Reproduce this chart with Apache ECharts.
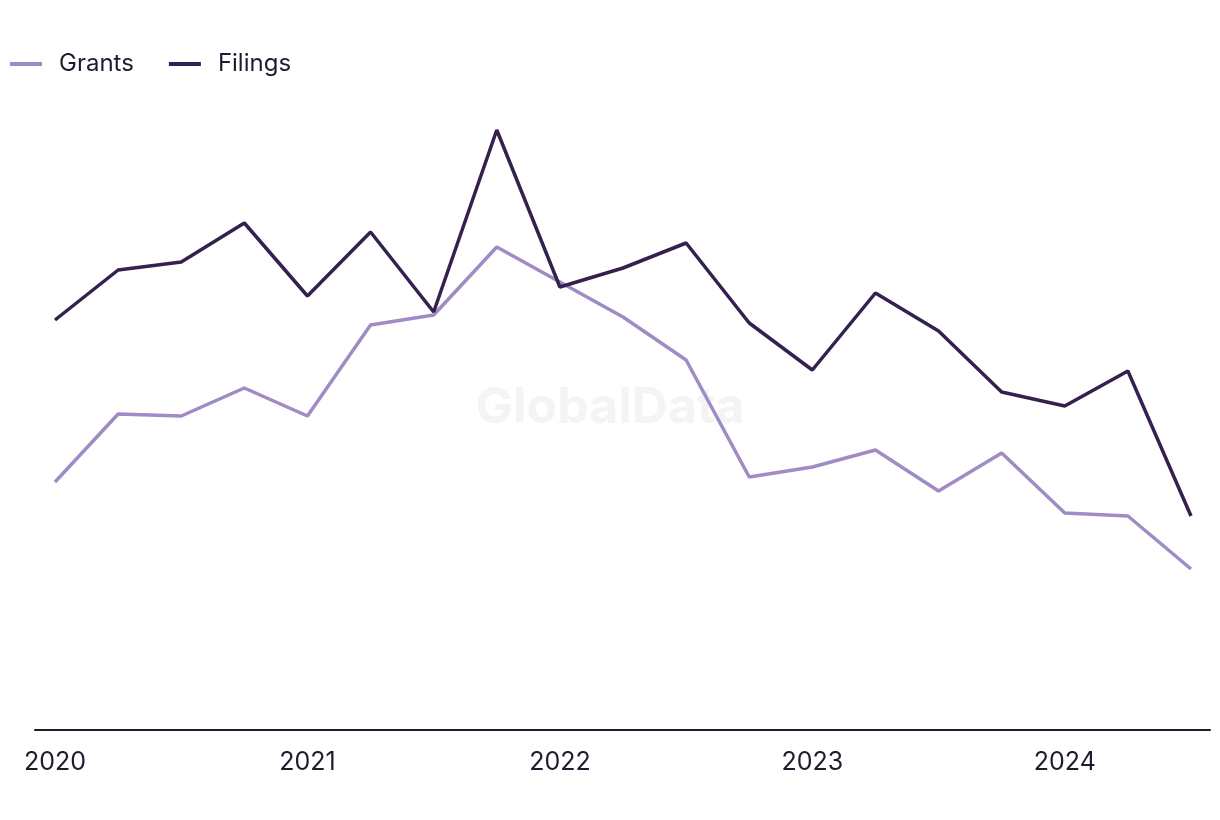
<!DOCTYPE html>
<html>
<head>
<meta charset="utf-8">
<script src="https://cdn.jsdelivr.net/npm/echarts@6/dist/echarts.min.js"></script>
<style>
html,body{margin:0;padding:0;background:#fff;}
#chart{width:1220px;height:820px;}
</style>
</head>
<body>
<div id="chart"></div>
<script>
// Quarterly periods (2020 Q1 .. 2024 Q3)
const quarters = ['2020 Q1','2020 Q2','2020 Q3','2020 Q4','2021 Q1','2021 Q2','2021 Q3','2021 Q4',
  '2022 Q1','2022 Q2','2022 Q3','2022 Q4','2023 Q1','2023 Q2','2023 Q3','2023 Q4',
  '2024 Q1','2024 Q2','2024 Q3'];
const grants  = [124, 158, 157, 171, 157, 202.5, 207.5, 241.5, 224, 206.5, 185, 126.5, 131.5, 140, 119.5, 138.5, 108.5, 107, 80.5];
const filings = [205, 230, 234, 253.5, 217, 249, 209, 300, 221.5, 231, 243.5, 203.5, 180, 218.5, 199.5, 169, 162, 179.5, 107];
const yearTickIdx = [0, 4, 8, 12, 16];
const yearLabels = ['2020', '2021', '2022', '2023', '2024'];

const FONT = 'Inter, "Liberation Sans", sans-serif';
const chart = echarts.init(document.getElementById('chart'), null, {renderer: 'canvas'});
chart.setOption({
  animation: false,
  backgroundColor: '#ffffff',
  graphic: [{
    type: 'text', left: 'center', top: 383, z: 0, silent: true,
    style: {text: 'GlobalData', fill: '#f4f4f5', font: 'bold 50px ' + FONT}
  }],
  legend: {
    left: 5, top: 47,
    itemWidth: 32, itemHeight: 14, itemGap: 35,
    icon: 'path://M0,5.5 L32,5.5 L32,9.5 L0,9.5 Z',
    textStyle: {fontFamily: FONT, fontSize: 24, color: '#1c1c2e', padding: [0, 0, 0, 12]},
    data: ['Grants', 'Filings']
  },
  grid: {left: 35, right: 10, top: 90, bottom: 90, containLabel: false},
  xAxis: {
    type: 'value',
    min: -20 / 63.11, max: 18 + 19 / 63.11,
    splitLine: {show: false},
    axisTick: {show: false},
    axisLine: {show: true, lineStyle: {color: '#1c1c2e', width: 2}},
    axisLabel: {
      customValues: yearTickIdx,
      formatter: v => yearLabels[yearTickIdx.indexOf(Math.round(v))] || '',
      fontFamily: FONT, fontSize: 25, color: '#1c1c2e', margin: 20
    }
  },
  yAxis: {
    type: 'value', min: 0, max: 320,
    show: false, splitLine: {show: false}
  },
  series: [
    {
      name: 'Grants', type: 'line', symbol: 'none', z: 3,
      color: '#a08bc5',
      lineStyle: {width: 3.5, color: '#a08bc5'},
      data: grants.map((v, i) => [i, v])
    },
    {
      name: 'Filings', type: 'line', symbol: 'none', z: 4,
      color: '#34214f',
      lineStyle: {width: 3.5, color: '#34214f'},
      data: filings.map((v, i) => [i, v])
    }
  ]
});
</script>
</body>
</html>
